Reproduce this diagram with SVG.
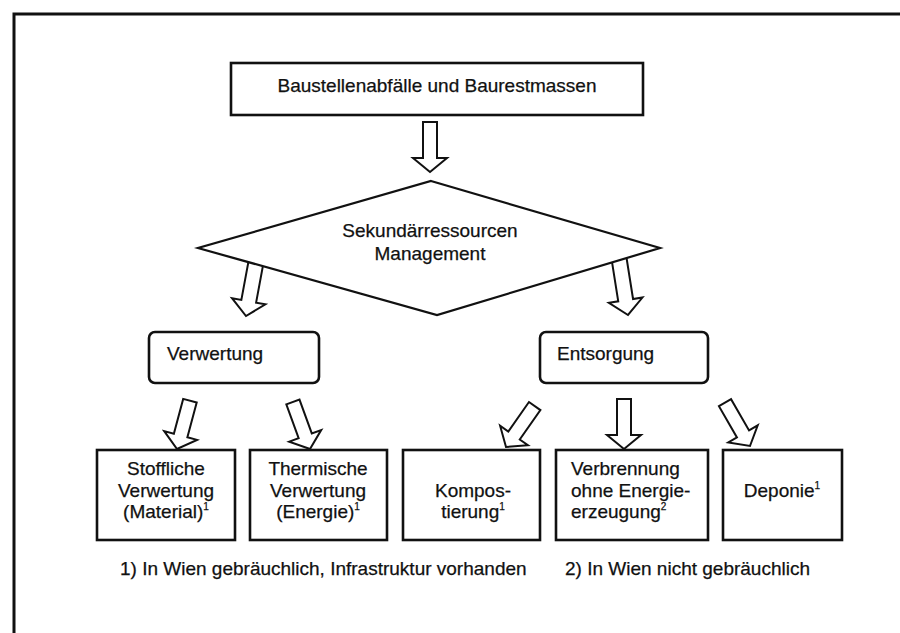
<svg xmlns="http://www.w3.org/2000/svg" width="900" height="633" viewBox="0 0 900 633">
  <style>
    text { font-family: "Liberation Sans", Arial, sans-serif; font-size: 19px; fill: #111; stroke: #111; stroke-width: 0.25; }
    .c { text-anchor: middle; }
    .sup { font-size: 10px; }
    .box { fill: #fff; stroke: #111; stroke-width: 2.6; }
    .arrow { fill: #fff; stroke: #111; stroke-width: 2; stroke-linejoin: miter; }
  </style>
  <defs>
    <!-- block arrow pointing down, tip at the origin -->
    <polygon id="arr50" points="-7,-50 7,-50 7,-14 17,-14 0,0 -17,-14 -7,-14"/>
    <polygon id="arr58" points="-7.5,-58 7.5,-58 7.5,-15 17,-15 0,0 -17,-15 -7.5,-15"/>
  </defs>

  <rect width="900" height="633" fill="#fff"/>
  <!-- outer frame (open at right and bottom) -->
  <rect id="frame" x="14" y="14" width="900" height="640" fill="none" stroke="#111" stroke-width="3"/>

  <g id="connectors" class="arrow">
    <use href="#arr50" transform="translate(430,172)"/>
    <use href="#arr58" transform="translate(246,316) rotate(10.5)"/>
    <use href="#arr58" transform="translate(628,315) rotate(-9)"/>
    <use href="#arr50" transform="translate(177,449) rotate(15)"/>
    <use href="#arr50" transform="translate(310,449) rotate(-20)"/>
    <use href="#arr50" transform="translate(506,447) rotate(35)"/>
    <use href="#arr50" transform="translate(624,449)"/>
    <use href="#arr50" transform="translate(750,446) rotate(-30)"/>
  </g>

  <g id="baustellen">
    <rect class="box" x="231" y="63" width="412" height="52"/>
    <text class="c" x="437" y="92">Baustellenabfälle und Baurestmassen</text>
  </g>

  <g id="management">
    <polygon points="431,181 660,248 437,315 198,248" fill="#fff" stroke="#111" stroke-width="2.2" stroke-linejoin="miter"/>
    <text class="c" x="430" y="237">Sekundärressourcen</text>
    <text class="c" x="430" y="260">Management</text>
  </g>

  <g id="verwertung">
    <rect class="box" x="149" y="332" width="170" height="51" rx="6"/>
    <text x="167" y="360">Verwertung</text>
  </g>

  <g id="entsorgung">
    <rect class="box" x="540" y="332" width="168" height="51" rx="6"/>
    <text x="557" y="360">Entsorgung</text>
  </g>

  <g id="stoffliche">
    <rect class="box" x="97" y="450" width="138" height="90"/>
    <text class="c" x="166" y="475">Stoffliche</text>
    <text class="c" x="166" y="497">Verwertung</text>
    <text class="c" x="166" y="518">(Material)<tspan class="sup" dy="-8">1</tspan></text>
  </g>

  <g id="thermische">
    <rect class="box" x="250" y="450" width="137" height="90"/>
    <text class="c" x="318" y="475">Thermische</text>
    <text class="c" x="318" y="497">Verwertung</text>
    <text class="c" x="318" y="518">(Energie)<tspan class="sup" dy="-8">1</tspan></text>
  </g>

  <g id="kompostierung">
    <rect class="box" x="403" y="450" width="137" height="90"/>
    <text class="c" x="473" y="497">Kompos-</text>
    <text class="c" x="473" y="518">tierung<tspan class="sup" dy="-8">1</tspan></text>
  </g>

  <g id="verbrennung">
    <rect class="box" x="556" y="450" width="152" height="90"/>
    <text x="571" y="475">Verbrennung</text>
    <text x="571" y="497">ohne Energie-</text>
    <text x="571" y="518">erzeugung<tspan class="sup" dy="-8">2</tspan></text>
  </g>

  <g id="deponie">
    <rect class="box" x="723" y="450" width="119" height="90"/>
    <text class="c" x="782" y="497">Deponie<tspan class="sup" dy="-8">1</tspan></text>
  </g>

  <g id="footnotes">
    <text x="120" y="575">1) In Wien gebräuchlich, Infrastruktur vorhanden</text>
    <text x="565" y="575">2) In Wien nicht gebräuchlich</text>
  </g>
</svg>
